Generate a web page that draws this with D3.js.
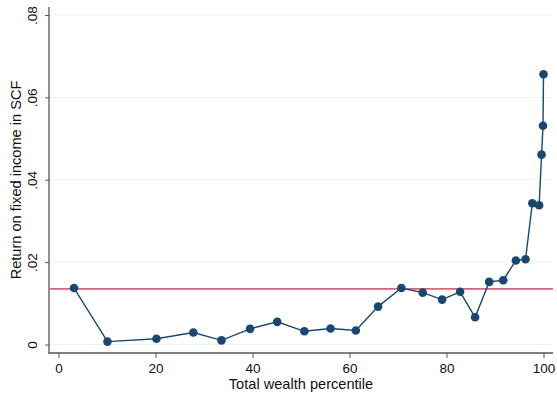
<!DOCTYPE html>
<html>
<head>
<meta charset="utf-8">
<script src="https://cdn.jsdelivr.net/npm/d3@7"></script>
<style>
  html, body { margin: 0; padding: 0; background: #fff; }
  svg { display: block; font-family: "Liberation Sans", Arial, Helvetica, sans-serif; }
</style>
</head>
<body>
<svg id="chart" width="557" height="393"></svg>
<script>
// Wealth percentile groups and the return on fixed income in each
const percentile = [3.2, 10.1, 20.2, 27.8, 33.6, 39.5, 45.1, 50.7, 56.1, 61.3, 65.9, 70.7, 75.1, 79.1, 82.8, 85.9, 88.8, 91.7, 94.3, 96.3, 97.7, 99.1, 99.6, 99.9, 100];
const fixedIncomeReturn = [0.0137, 0.0007, 0.0014, 0.0029, 0.0010, 0.0038, 0.0055, 0.0032, 0.0039, 0.0034, 0.0092, 0.0137, 0.0126, 0.0109, 0.0128, 0.0066, 0.0152, 0.0156, 0.0204, 0.0207, 0.0343, 0.0338, 0.0461, 0.0531, 0.0656];
// Reference level drawn as a horizontal line
const referenceReturn = [0.0135];
const xTicks = [0, 20, 40, 60, 80, 100];
const yTicks = [0, 0.02, 0.04, 0.06, 0.08];
const xTitle = "Total wealth percentile";
const yTitle = "Return on fixed income in SCF";

const svg = d3.select("#chart");
const plotLeft = 49, plotRight = 553, plotTop = 7, plotBottom = 353;

const x = d3.scaleLinear().domain([0, 100]).range([58.5, 543.5]);
const y = d3.scaleLinear().domain([0, 0.08]).range([344.5, 15]);

const axisColor = "#555";
const navy = "#1a476f";
const tickFont = 13.5, titleFont = 14.6;

// Horizontal grid lines
svg.append("g").selectAll("line").data(yTicks).join("line")
  .attr("x1", plotLeft).attr("x2", plotRight)
  .attr("y1", d => y(d)).attr("y2", d => y(d))
  .attr("stroke", "#eaf2f3").attr("stroke-width", 1);

// Y axis with vertical tick labels
const yAxis = d3.axisLeft(y).tickValues(yTicks).tickSize(4)
  .tickFormat(d => d === 0 ? "0" : d3.format(".2f")(d).replace(/^0/, ""));
const gy = svg.append("g").attr("transform", `translate(${plotLeft},0)`).call(yAxis);
gy.select(".domain").remove();
gy.selectAll(".tick line").attr("stroke", axisColor);
gy.selectAll(".tick text")
  .attr("font-size", tickFont).attr("fill", "#111")
  .attr("x", 0).attr("y", 0).attr("dy", 0)
  .attr("text-anchor", "middle")
  .attr("transform", "translate(-12,0) rotate(-90)");
svg.append("line")
  .attr("x1", plotLeft).attr("x2", plotLeft)
  .attr("y1", plotTop).attr("y2", plotBottom + 0.5)
  .attr("stroke", axisColor).attr("stroke-width", 1.3);

// X axis
const xAxis = d3.axisBottom(x).tickValues(xTicks).tickSize(5).tickPadding(5).tickFormat(d3.format("d"));
const gx = svg.append("g").attr("transform", `translate(0,${plotBottom})`).call(xAxis);
gx.select(".domain").remove();
gx.selectAll(".tick line").attr("stroke", axisColor);
gx.selectAll(".tick text").attr("font-size", tickFont).attr("fill", "#111");
svg.append("line")
  .attr("x1", plotLeft - 0.5).attr("x2", plotRight)
  .attr("y1", plotBottom).attr("y2", plotBottom)
  .attr("stroke", axisColor).attr("stroke-width", 1.3);

// Axis titles
svg.append("text")
  .attr("x", (plotLeft + plotRight) / 2).attr("y", 389)
  .attr("text-anchor", "middle").attr("font-size", titleFont).attr("fill", "#111")
  .text(xTitle);
svg.append("text")
  .attr("transform", `translate(20.5,${(plotTop + plotBottom) / 2}) rotate(-90)`)
  .attr("text-anchor", "middle").attr("font-size", titleFont).attr("fill", "#111")
  .text(yTitle);

// Reference line
svg.append("g").selectAll("line").data(referenceReturn).join("line")
  .attr("x1", plotLeft + 0.7).attr("x2", plotRight)
  .attr("y1", d => y(d)).attr("y2", d => y(d))
  .attr("stroke", "#d6647e").attr("stroke-width", 1.6);

// Connected series
const points = percentile.map((p, i) => ({ p, r: fixedIncomeReturn[i] }));
svg.append("path").datum(points)
  .attr("fill", "none").attr("stroke", navy).attr("stroke-width", 1.4)
  .attr("d", d3.line().x(d => x(d.p)).y(d => y(d.r)));
svg.append("g").selectAll("circle").data(points).join("circle")
  .attr("cx", d => x(d.p)).attr("cy", d => y(d.r)).attr("r", 4.3)
  .attr("fill", navy);
</script>
</body>
</html>
